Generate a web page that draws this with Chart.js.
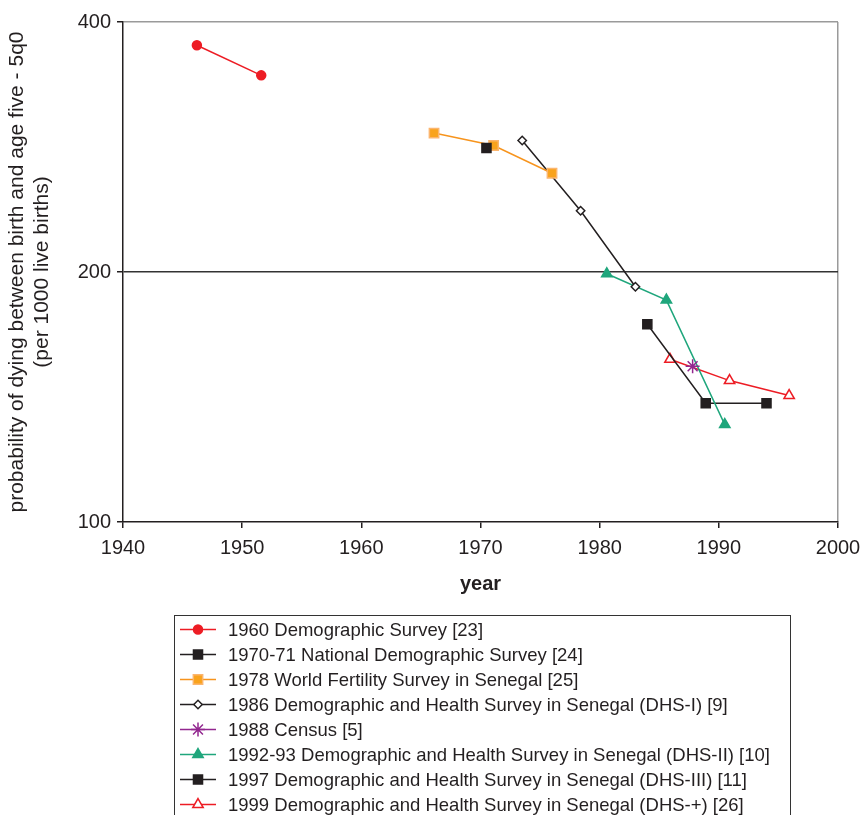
<!DOCTYPE html>
<html>
<head>
<meta charset="utf-8">
<script src="https://cdn.jsdelivr.net/npm/chart.js"></script>
<style>
  html, body { margin: 0; padding: 0; background: #fff; }
  #wrap { width: 861px; height: 815px; }
</style>
</head>
<body>
<div id="wrap"><canvas id="u5chart" width="861" height="815"></canvas></div>
<script>
// values (year, 5q0 per 1000)
var survey1960Years = [1946.2, 1951.6];
var survey1960Values = [375, 345];
var survey1970Years = [1970.5];
var survey1970Values = [282];
var wfs1978Years = [1966.1, 1971.1, 1976.0];
var wfs1978Values = [294, 284, 263];
var dhs1Years = [1973.5, 1978.4, 1983.0];
var dhs1Values = [288, 237, 192];
var census1988Years = [1987.8];
var census1988Values = [154];
var dhs2Years = [1980.6, 1985.6, 1990.5];
var dhs2Values = [199, 185, 131];
var dhs3Years = [1984.0, 1988.9, 1994.0];
var dhs3Values = [173, 139, 139];
var dhsPlusYears = [1985.9, 1990.9, 1995.9];
var dhsPlusValues = [157, 148, 142];

var yTicks = [100, 200, 400];

var seriesLabels = [
    '1960 Demographic Survey [23]',
    '1970-71 National Demographic Survey [24]',
    '1978 World Fertility Survey in Senegal [25]',
    '1986 Demographic and Health Survey in Senegal (DHS-I) [9]',
    '1988 Census [5]',
    '1992-93 Demographic and Health Survey in Senegal (DHS-II) [10]',
    '1997 Demographic and Health Survey in Senegal (DHS-III) [11]',
    '1999 Demographic and Health Survey in Senegal (DHS-+) [26]'
];

function pts(xs, ys) {
    return xs.map(function (x, i) { return {x: x, y: ys[i]}; });
}

var BLACK = '#231f20';
var FONT = '"Liberation Sans", Arial, sans-serif';

var datasets = [
    {data: pts(survey1960Years, survey1960Values), borderColor: '#ed1c24', backgroundColor: '#ed1c24', pointStyle: 'circle', pointRadius: 4.5},
    {data: pts(survey1970Years, survey1970Values), borderColor: BLACK, backgroundColor: BLACK, pointStyle: 'rect', pointRadius: 6.4},
    {data: pts(wfs1978Years, wfs1978Values), borderColor: '#f7941d', backgroundColor: '#f9a31c', pointBorderColor: '#fbb56e', pointStyle: 'rect', pointRadius: 6.6},
    {data: pts(dhs1Years, dhs1Values), borderColor: BLACK, backgroundColor: '#ffffff', pointBorderColor: BLACK, pointStyle: 'rectRot', pointRadius: 4.2},
    {data: pts(census1988Years, census1988Values), borderColor: '#92278f', backgroundColor: '#92278f', pointStyle: 'star', pointRadius: 7},
    {data: pts(dhs2Years, dhs2Values), borderColor: '#1fa67c', backgroundColor: '#1fa67c', pointStyle: 'triangle', pointRadius: 6},
    {data: pts(dhs3Years, dhs3Values), borderColor: BLACK, backgroundColor: BLACK, pointStyle: 'rect', pointRadius: 6.4},
    {data: pts(dhsPlusYears, dhsPlusValues), borderColor: '#ed1c24', backgroundColor: '#ffffff', pointBorderColor: '#ed1c24', pointStyle: 'triangle', pointRadius: 6}
];
datasets.forEach(function (d, i) {
    d.label = seriesLabels[i];
    d.borderWidth = 1.5;
    d.pointBorderWidth = 1.5;
    d.tension = 0;
    if (!d.pointBorderColor) d.pointBorderColor = d.borderColor;
    d.pointBackgroundColor = d.backgroundColor;
});

// boxed legend under the axis, one entry per row
var boxLegend = {
    id: 'boxLegend',
    afterDraw: function (chart) {
        var ctx = chart.ctx;
        ctx.save();
        ctx.strokeStyle = '#333';
        ctx.lineWidth = 1;
        ctx.strokeRect(174.5, 615.5, 616, 230);
        ctx.font = '18.5px ' + FONT;
        ctx.textBaseline = 'middle';
        ctx.textAlign = 'left';
        chart.data.datasets.forEach(function (d, i) {
            var y = 629.5 + i * 25;
            ctx.strokeStyle = d.borderColor;
            ctx.lineWidth = 1.5;
            ctx.beginPath();
            ctx.moveTo(180, y);
            ctx.lineTo(216, y);
            ctx.stroke();
            ctx.fillStyle = d.pointBackgroundColor;
            ctx.strokeStyle = d.pointBorderColor;
            ctx.lineWidth = 1.5;
            Chart.helpers.drawPoint(ctx, {pointStyle: d.pointStyle, radius: d.pointRadius, rotation: 0, borderWidth: 1.5}, 198, y);
            ctx.fillStyle = BLACK;
            ctx.fillText(d.label, 228, y + 1);
        });
        ctx.restore();
    }
};

new Chart(document.getElementById('u5chart'), {
    type: 'line',
    data: {datasets: datasets},
    options: {
        responsive: false,
        animation: false,
        layout: {padding: {top: 22, right: 23, bottom: 213, left: 0}},
        scales: {
            x: {
                type: 'linear',
                min: 1940,
                max: 2000,
                afterFit: function (s) { s.height = 80; s.paddingRight = 0; s.paddingLeft = 0; },
                ticks: {
                    stepSize: 10,
                    color: BLACK,
                    font: {family: FONT, size: 20},
                    padding: 8,
                    maxRotation: 0,
                    callback: function (v) { return String(v); }
                },
                grid: {
                    color: function (c) { return c.tick && c.tick.value === 2000 ? '#9a9a9a' : 'rgba(0,0,0,0)'; },
                    tickColor: BLACK,
                    tickLength: 6,
                    lineWidth: 1.5
                },
                border: {display: true, color: BLACK, width: 1.5},
                title: {
                    display: true,
                    text: 'year',
                    color: BLACK,
                    font: {family: FONT, size: 20, weight: 'bold'},
                    padding: {top: 0, bottom: 6}
                }
            },
            y: {
                type: 'logarithmic',
                min: 100,
                max: 400,
                afterFit: function (s) { s.width = 123; s.paddingTop = 0; s.paddingBottom = 0; },
                afterBuildTicks: function (s) {
                    s.ticks = yTicks.map(function (v) { return {value: v, major: true}; });
                },
                ticks: {
                    color: BLACK,
                    font: {family: FONT, size: 20},
                    padding: 6,
                    callback: function (v) { return String(v); }
                },
                grid: {
                    color: function (c) {
                        if (!c.tick) return 'rgba(0,0,0,0)';
                        if (c.tick.value === 200) return '#333';
                        if (c.tick.value === 400) return '#9a9a9a';
                        return 'rgba(0,0,0,0)';
                    },
                    tickColor: BLACK,
                    tickLength: 6,
                    lineWidth: 1.5
                },
                border: {display: true, color: BLACK, width: 1.5},
                title: {
                    display: true,
                    text: ['probability of dying between birth and age five - 5q0', '(per 1000 live births)'],
                    color: BLACK,
                    font: {family: FONT, size: 21, lineHeight: 1.15},
                    padding: {top: 5.5, bottom: 0}
                }
            }
        },
        plugins: {
            legend: {display: false},
            tooltip: {enabled: false}
        }
    },
    plugins: [boxLegend]
});
</script>
</body>
</html>
